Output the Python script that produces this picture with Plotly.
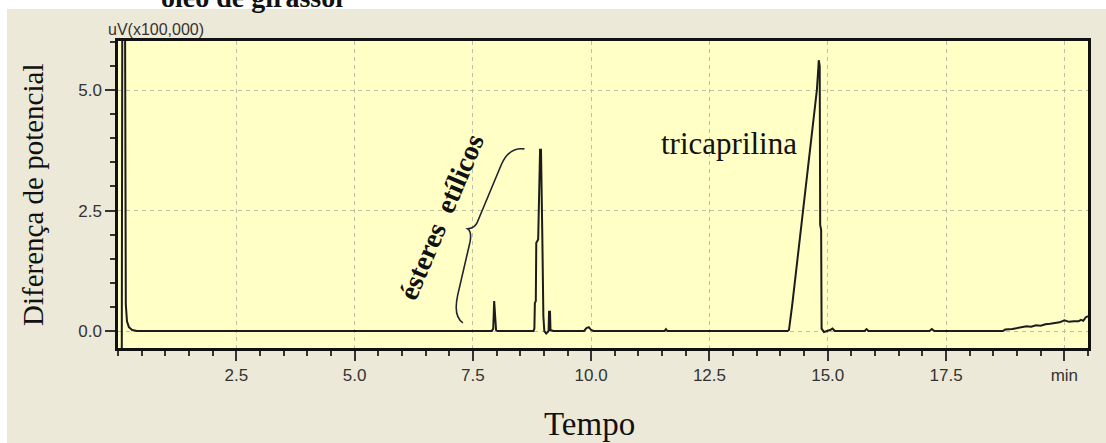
import plotly.graph_objects as go

# Chromatogram trace: retention time (min) and detector signal (uV x 100,000)
tempo = [
    0.08, 0.09, 0.15, 0.16, 0.165, 0.19, 0.23, 0.30, 0.40,
    7.90, 7.93, 7.95, 7.97, 7.99, 8.02,
    8.78, 8.80, 8.81, 8.83, 8.84, 8.88, 8.92, 8.94, 8.96, 8.97, 8.99, 9.01,
    9.05, 9.09, 9.10, 9.11, 9.13, 9.14, 9.20,
    9.85, 9.90, 9.95, 10.00, 10.05,
    11.55, 11.58, 11.61,
    14.15, 14.18, 14.25, 14.35, 14.49, 14.62, 14.72, 14.77, 14.80, 14.81,
    14.83, 14.84, 14.86, 14.87, 14.92, 15.00, 15.05, 15.10, 15.15,
    15.78, 15.82, 15.86,
    17.15, 17.20, 17.25,
    18.70, 18.75, 18.90, 19.00, 19.10, 19.20, 19.30, 19.40, 19.50, 19.60,
    19.70, 19.80, 19.90, 20.00, 20.10, 20.20, 20.30, 20.35, 20.40, 20.45, 20.50,
]
sinal = [
    -0.36, 6.10, 6.10, 1.70, 0.55, 0.20, 0.08, 0.02, 0.00,
    0.00, 0.05, 0.62, 0.30, 0.02, 0.00,
    0.00, 0.05, 0.58, 0.62, 1.83, 1.90, 3.76, 3.76, 2.90, 1.80, 0.30, 0.00,
    -0.05, 0.00, 0.00, 0.40, 0.40, 0.02, 0.00,
    0.00, 0.06, 0.08, 0.02, 0.00,
    0.00, 0.04, 0.00,
    0.00, 0.02, 0.55, 1.40, 2.50, 3.60, 4.50, 5.00, 5.45, 5.62,
    5.50, 2.20, 2.10, 0.05, -0.02, 0.00, 0.02, 0.05, 0.00,
    0.00, 0.04, 0.00,
    0.00, 0.04, 0.00,
    0.00, 0.03, 0.04, 0.06, 0.07, 0.10, 0.09, 0.12, 0.11, 0.14,
    0.15, 0.17, 0.18, 0.22, 0.19, 0.20, 0.20, 0.23, 0.21, 0.28, 0.31,
]

x_ticks = [2.5, 5.0, 7.5, 10.0, 12.5, 15.0, 17.5, 20.0]
x_labels = ["2.5", "5.0", "7.5", "10.0", "12.5", "15.0", "17.5", "min"]
y_ticks = [0.0, 2.5, 5.0]
y_labels = ["0.0", "2.5", "5.0"]

W, H = 1106, 443
L, R, T, B = 118, 18, 41, 95
PW, PH = W - L - R, H - T - B


def px_x(p):
    return (p - L) / PW


def px_y(p):
    return (H - B - p) / PH


PAPER = "#ECE9D8"
PLOT_BG = "#FFFFC6"
GRID = "#BDBDA8"
TICK_FONT = "Liberation Sans Narrow, Liberation Sans, Arial, sans-serif"
SERIF = "Liberation Serif, Times New Roman, serif"

fig = go.Figure()
fig.add_trace(go.Scatter(
    x=tempo, y=sinal, mode="lines",
    line=dict(color="#1c1c1c", width=2),
    hoverinfo="skip", showlegend=False,
))

axis_common = dict(
    showline=True, mirror=True, linecolor="#111111", linewidth=2.5,
    ticks="outside", ticklen=10, tickwidth=1.5, tickcolor="#333333",
    showgrid=True, gridcolor=GRID, griddash="4px,4px", gridwidth=1,
    zeroline=False,
    tickfont=dict(family=TICK_FONT, size=17, color="#333333"),
)

fig.update_xaxes(
    range=[0, 20.5], tickmode="array", tickvals=x_ticks, ticktext=x_labels,
    minor=dict(dtick=0.5, ticks="outside", ticklen=5, tickcolor="#333333",
               showgrid=False),
    **axis_common,
)
fig.update_yaxes(
    range=[-0.353, 6.02], tickmode="array", tickvals=y_ticks, ticktext=y_labels,
    minor=dict(dtick=0.5, ticks="outside", ticklen=5, tickcolor="#333333",
               showgrid=False),
    **axis_common,
)

# White border strips around the gray panel
fig.add_shape(type="rect", xref="paper", yref="paper", layer="below",
              x0=px_x(0), x1=px_x(W), y0=px_y(9), y1=px_y(0),
              fillcolor="white", line=dict(width=0))
fig.add_shape(type="rect", xref="paper", yref="paper", layer="below",
              x0=px_x(0), x1=px_x(7), y0=px_y(H), y1=px_y(0),
              fillcolor="white", line=dict(width=0))

# Curly brace grouping the ethyl ester peaks
fig.add_shape(
    type="path", xref="x", yref="y",
    path=("M 7.29,0.17 Q 7.08,0.30 7.18,0.75 L 7.44,1.85 "
          "Q 7.48,2.06 7.39,2.12 Q 7.56,2.13 7.62,2.32 "
          "L 8.10,3.45 Q 8.26,3.82 8.59,3.78"),
    line=dict(color="#1e2430", width=1.6),
)

annotations = [
    dict(text="tricaprilina", x=12.91, y=3.90, xref="x", yref="y",
         showarrow=False, font=dict(family=SERIF, size=31, color="#111111")),
    dict(text="<b>ésteres  etílicos</b>", x=6.84, y=2.37, xref="x", yref="y",
         showarrow=False, textangle=-67,
         font=dict(family=SERIF, size=28, color="#111111")),
    dict(text="Diferença de potencial", x=px_x(33), y=px_y(195),
         xref="paper", yref="paper", showarrow=False, textangle=-90,
         xanchor="center", yanchor="middle",
         font=dict(family=SERIF, size=29, color="#111111")),
    dict(text="Tempo", x=px_x(589), y=px_y(424), xref="paper", yref="paper",
         showarrow=False, xanchor="center", yanchor="middle",
         font=dict(family=SERIF, size=33, color="#111111")),
    dict(text="uV(x100,000)", x=px_x(156), y=px_y(30), xref="paper",
         yref="paper", showarrow=False, xanchor="center", yanchor="middle",
         font=dict(family=TICK_FONT, size=16, color="#333333")),
    dict(text="<b>óleo de girassol</b>", x=px_x(160), y=px_y(14),
         xref="paper", yref="paper", showarrow=False, xanchor="left",
         yanchor="bottom", borderpad=0,
         font=dict(family=SERIF, size=28, color="#111111")),
]

fig.update_layout(
    width=W, height=H, autosize=False,
    margin=dict(l=L, r=R, t=T, b=B, pad=0),
    paper_bgcolor=PAPER, plot_bgcolor=PLOT_BG,
    annotations=annotations,
    showlegend=False,
)

fig.write_html("out.html", config={"displayModeBar": False})
